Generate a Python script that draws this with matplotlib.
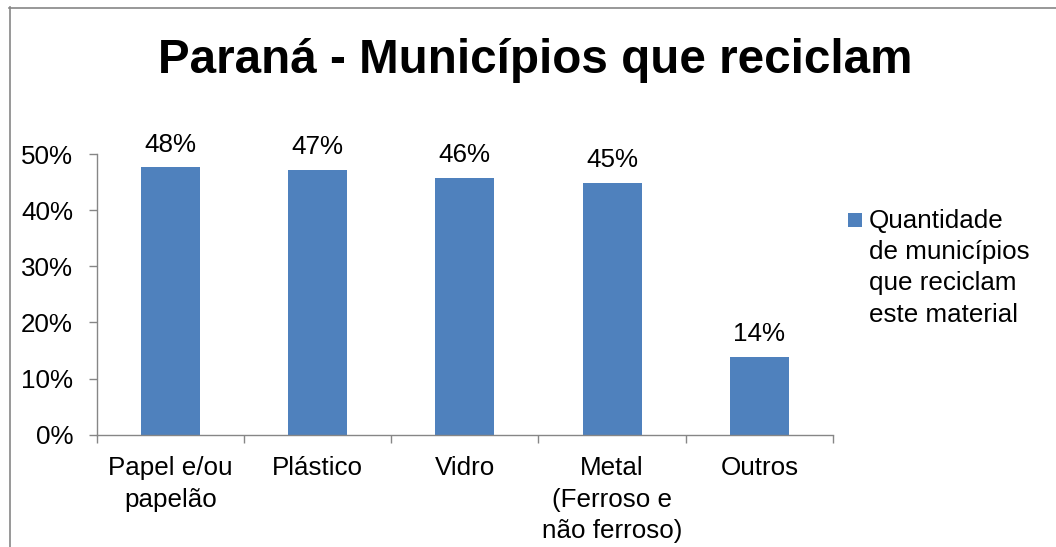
import matplotlib
matplotlib.use("Agg")
import matplotlib.pyplot as plt
from matplotlib.lines import Line2D
from matplotlib.patches import Rectangle

title = "Paraná - Municípios que reciclam"
categories = ["Papel e/ou\npapelão", "Plástico", "Vidro", "Metal\n(Ferroso e\nnão ferroso)", "Outros"]
values = [0.476, 0.471, 0.458, 0.448, 0.139]
series_label = "Quantidade\nde municípios\nque reciclam\neste material"
yticks = [0.0, 0.1, 0.2, 0.3, 0.4, 0.5]
ytick_labels = ["0%", "10%", "20%", "30%", "40%", "50%"]

BAR = "#4F81BD"
GRID = "#868686"
FS = 18.7

plt.rcParams['font.family'] = ['Liberation Sans', 'DejaVu Sans']

W, H = 1056, 547
fig = plt.figure(figsize=(W / 100, H / 100), dpi=100)
ax = fig.add_axes([96.7 / W, 1 - 434.7 / H, (833 - 96.7) / W, (434.7 - 154) / H])

x = [i + 0.5 for i in range(len(categories))]
bars = ax.bar(x, values, width=0.4, color=BAR, edgecolor='none', zorder=2)

for xi, v in zip(x, values):
    ax.annotate(f"{round(v * 100):.0f}%", (xi, v), xytext=(0, 11.5), textcoords='offset points',
                ha='center', va='baseline', fontsize=FS, color='black')

ax.set_xlim(0, len(categories))
ax.set_ylim(0, 0.5)
ax.set_yticks(yticks)
ax.set_yticklabels(ytick_labels, fontsize=FS)
ax.set_xticks(range(len(categories) + 1))
ax.set_xticklabels([])
ax.set_xticks(x, minor=True)
ax.set_xticklabels(categories, minor=True, fontsize=FS, linespacing=1.4)
ax.tick_params(axis='x', which='major', length=6, width=1, color=GRID, direction='out')
ax.tick_params(axis='x', which='minor', length=0, pad=15.5)
ax.tick_params(axis='y', length=6, width=1, color=GRID, direction='out', pad=11)

for s in ['top', 'right']:
    ax.spines[s].set_visible(False)
for s in ['left', 'bottom']:
    ax.spines[s].set_color(GRID)
    ax.spines[s].set_linewidth(1)

fig.text(535 / W, 1 - 73 / H, title, ha='center', va='baseline', fontsize=34.3, fontweight='bold')

# legend
fig.add_artist(Rectangle((848 / W, 1 - 227 / H), 14 / W, 14 / H, transform=fig.transFigure,
                         facecolor=BAR, edgecolor='none'))
for i, line in enumerate(series_label.split("\n")):
    fig.text(869 / W, 1 - (227.7 + 31.3 * i) / H, line, ha='left', va='baseline', fontsize=FS)

# chart border
fig.add_artist(Line2D([9.5 / W, 9.5 / W], [0, 1 - 7 / H], transform=fig.transFigure, color=GRID, lw=1.2))
fig.add_artist(Line2D([9 / W, 1], [1 - 7.5 / H, 1 - 7.5 / H], transform=fig.transFigure, color=GRID, lw=1.2))

fig.savefig("out.png", dpi=100)
